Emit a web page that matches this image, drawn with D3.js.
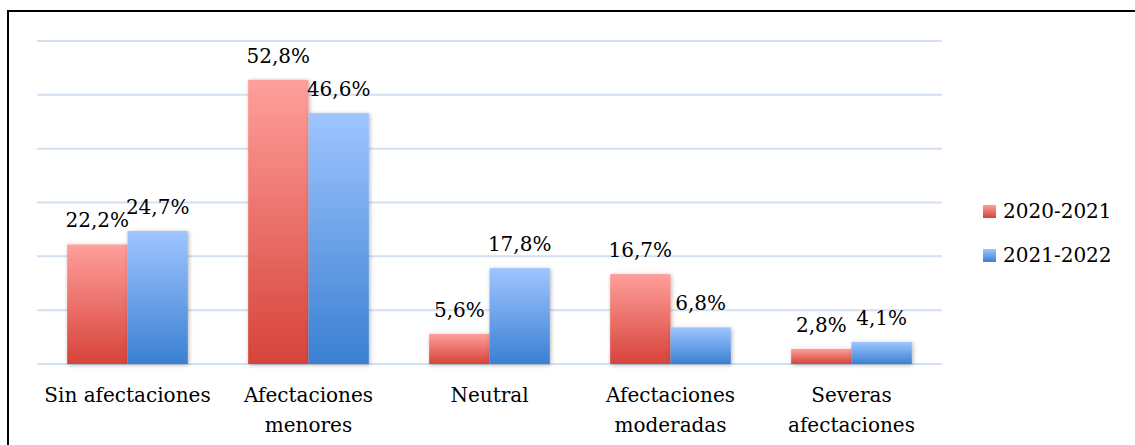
<!DOCTYPE html>
<html>
<head>
<meta charset="utf-8">
<script src="https://cdn.jsdelivr.net/npm/d3@7/dist/d3.min.js"></script>
<style>
  html, body { margin: 0; padding: 0; background: #fff; }
  svg { display: block; }
</style>
</head>
<body>
<svg id="chart" width="1135" height="445"></svg>
<script>
// Share of students by level of impact, two school years
const categories = [["Sin afectaciones"], ["Afectaciones", "menores"], ["Neutral"], ["Afectaciones", "moderadas"], ["Severas", "afectaciones"]];
const series = ["2020-2021", "2021-2022"];
const values2020 = [22.2, 52.8, 5.6, 16.7, 2.8];
const values2021 = [24.7, 46.6, 17.8, 6.8, 4.1];
const yTicks = [0, 10, 20, 30, 40, 50, 60];

const svg = d3.select("#chart");
const W = 1135, H = 445;
const plot = { left: 37, right: 942, top: 41, bottom: 364 };
const FONT = "DejaVu Serif";
const FS = 20;

// Frame around the chart (left and top edges visible)
svg.append("path")
  .attr("d", `M8,${H} L8,11 L${W},11`)
  .attr("fill", "none").attr("stroke", "#000").attr("stroke-width", 2);

const defs = svg.append("defs");
const grads = [
  { id: "gRed", top: "#ff9f9b", bottom: "#d6433a" },
  { id: "gBlue", top: "#9fc5ff", bottom: "#3a80d2" }
];
grads.forEach(g => {
  const lg = defs.append("linearGradient").attr("id", g.id)
    .attr("x1", 0).attr("y1", 0).attr("x2", 0).attr("y2", 1);
  lg.append("stop").attr("offset", "0%").attr("stop-color", g.top);
  lg.append("stop").attr("offset", "100%").attr("stop-color", g.bottom);
});
const f = defs.append("filter").attr("id", "shadow")
  .attr("x", "-20%").attr("y", "-20%").attr("width", "140%").attr("height", "140%");
f.append("feDropShadow").attr("dx", 1).attr("dy", 1).attr("stdDeviation", 2)
  .attr("flood-color", "#000").attr("flood-opacity", 0.3);

const x0 = d3.scaleBand().domain(d3.range(categories.length))
  .range([plot.left, plot.right]).paddingInner(0).paddingOuter(0);
const groupPad = x0.bandwidth() / 6;
const x1 = d3.scaleBand().domain(series)
  .range([groupPad, x0.bandwidth() - groupPad]).padding(0);
const y = d3.scaleLinear().domain([0, 60]).range([plot.bottom, plot.top]);

// Horizontal gridlines
svg.append("g").selectAll("line").data(yTicks).join("line")
  .attr("x1", plot.left).attr("x2", plot.right)
  .attr("y1", d => y(d)).attr("y2", d => y(d))
  .attr("stroke", "#d3e1f2").attr("stroke-width", 2);

const data = categories.map((c, i) => [
  { s: series[0], v: values2020[i], fill: "url(#gRed)" },
  { s: series[1], v: values2021[i], fill: "url(#gBlue)" }
]);

const groups = svg.append("g").selectAll("g").data(data).join("g")
  .attr("transform", (d, i) => `translate(${x0(i)},0)`);

groups.selectAll("rect").data(d => d).join("rect")
  .attr("x", d => x1(d.s))
  .attr("y", d => y(d.v))
  .attr("width", x1.bandwidth())
  .attr("height", d => y(0) - y(d.v))
  .attr("fill", d => d.fill)
  .attr("filter", "url(#shadow)");

const fmt = v => v.toFixed(1).replace(".", ",") + "%";
groups.selectAll("text.val").data(d => d).join("text")
  .attr("class", "val")
  .attr("x", d => x1(d.s) + x1.bandwidth() / 2)
  .attr("y", d => y(d.v) - 17)
  .attr("text-anchor", "middle")
  .attr("font-family", FONT)
  .attr("font-size", FS)
  .text(d => fmt(d.v));

// Category labels
const cat = svg.append("g").selectAll("text").data(categories).join("text")
  .attr("x", (d, i) => x0(i) + x0.bandwidth() / 2)
  .attr("y", 402)
  .attr("text-anchor", "middle")
  .attr("font-family", FONT)
  .attr("font-size", FS);
cat.selectAll("tspan").data(d => d).join("tspan")
  .attr("x", function () { return d3.select(this.parentNode).attr("x"); })
  .attr("dy", (d, i) => i === 0 ? 0 : 30)
  .text(d => d);

// Legend
const legend = svg.append("g").selectAll("g").data(series).join("g")
  .attr("transform", (d, i) => `translate(983,${205 + i * 44})`);
legend.append("rect").attr("width", 13).attr("height", 13)
  .attr("fill", (d, i) => `url(#${grads[i].id})`);
legend.append("text").attr("x", 20).attr("y", 13)
  .attr("font-family", FONT)
  .attr("font-size", FS).text(d => d);
</script>
</body>
</html>
